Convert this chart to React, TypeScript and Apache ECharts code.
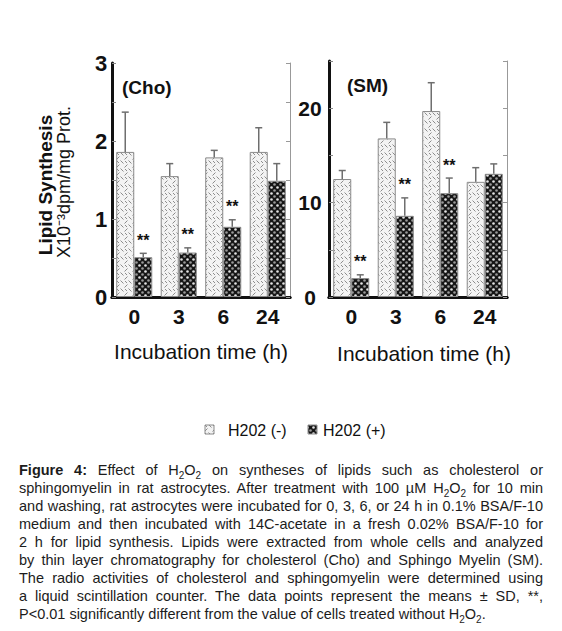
import React, { useEffect, useLayoutEffect, useRef } from 'react';
import * as echarts from 'echarts';

// ---------- data ----------
const categories = ['0', '3', '6', '24'];

const choMinus = [1.86, 1.55, 1.79, 1.86];
const choMinusSD = [0.51, 0.16, 0.09, 0.31];
const choPlus = [0.51, 0.57, 0.9, 1.49];
const choPlusSD = [0.05, 0.06, 0.09, 0.22];
const choSignificant = [true, true, true, false];
const choTickLabels = ['0', '1', '2', '3'];

const smMinus = [12.5, 16.8, 19.7, 12.2];
const smMinusSD = [0.9, 1.7, 3.0, 1.5];
const smPlus = [2.0, 8.6, 11.0, 13.05];
const smPlusSD = [0.35, 1.9, 1.6, 1.05];
const smSignificant = [true, true, true, false];
const smTickLabels = ['0', '10', '20'];

const legendNames = ['H202 (-)', 'H202 (+)'];

// ---------- styling ----------
const SANS = "'Liberation Sans', Arial, sans-serif";
const NARROW = "'Liberation Sans Narrow', 'Liberation Sans', Arial, sans-serif";
const INK = '#111';

function makeLight(): HTMLCanvasElement {
  const c = document.createElement('canvas');
  c.width = 8;
  c.height = 8;
  const g = c.getContext('2d')!;
  g.fillStyle = '#f3f3f3';
  g.fillRect(0, 0, 8, 8);
  g.strokeStyle = '#8c8c8c';
  g.lineWidth = 1;
  g.beginPath();
  g.moveTo(0.5, 0.5);
  g.lineTo(3.5, 3.5);
  g.moveTo(4.5, 7.5);
  g.lineTo(7.5, 4.5);
  g.moveTo(5, 1);
  g.lineTo(7, 3);
  g.stroke();
  return c;
}

function makeDark(): HTMLCanvasElement {
  const c = document.createElement('canvas');
  c.width = 6;
  c.height = 6;
  const g = c.getContext('2d')!;
  g.fillStyle = '#161616';
  g.fillRect(0, 0, 6, 6);
  g.fillStyle = '#e4e4e4';
  g.beginPath();
  g.arc(1.5, 1.5, 1.3, 0, Math.PI * 2);
  g.fill();
  g.fillStyle = '#9a9a9a';
  g.beginPath();
  g.arc(4.5, 4.5, 1.3, 0, Math.PI * 2);
  g.fill();
  return c;
}

function buildErrData(minus: number[], minusSD: number[], plus: number[], plusSD: number[], sig: boolean[]) {
  const out: any[] = [];
  categories.forEach((_, i) => {
    out.push([i, minus[i], minus[i] + minusSD[i], -1, 0]);
    out.push([i, plus[i], plus[i] + plusSD[i], 1, sig[i] ? 1 : 0]);
  });
  return out;
}

function errRender(params: any, api: any) {
  const cat = api.value(0);
  const mean = api.value(1);
  const top = api.value(2);
  const side = api.value(3);
  const sig = api.value(4);
  const band = api.size([1, 0])[0];
  const off = side * band * 0.2025;
  const p0 = api.coord([cat, mean]);
  const p1 = api.coord([cat, top]);
  const x = p0[0] + off;
  const lineStyle = { stroke: '#6e6e6e', lineWidth: 1.5 };
  const children: any[] = [
    { type: 'line', shape: { x1: x, y1: p0[1], x2: x, y2: p1[1] }, style: lineStyle },
    { type: 'line', shape: { x1: x - 3.5, y1: p1[1], x2: x + 3.5, y2: p1[1] }, style: lineStyle },
  ];
  if (sig) {
    children.push({
      type: 'text',
      style: {
        text: '**',
        x,
        y: p1[1] - 13,
        align: 'center',
        verticalAlign: 'middle',
        fontSize: 16,
        fontWeight: 'bold',
        fontFamily: SANS,
        fill: INK,
      },
    });
  }
  return { type: 'group', children };
}

function Caption() {
  const refs = useRef<(HTMLSpanElement | null)[]>([]);
  const W = 524;
  useLayoutEffect(() => {
    refs.current.forEach((el, idx) => {
      if (!el) return;
      el.style.wordSpacing = '0px';
      el.style.transform = 'none';
      const w = el.getBoundingClientRect().width;
      const isLast = idx === refs.current.length - 1;
      if (w > W) {
        el.style.transform = `scaleX(${W / w})`;
      } else if (!isLast) {
        const spaces = (el.textContent || '').split(' ').length - 1;
        if (spaces > 0) el.style.wordSpacing = `${(W - w) / spaces}px`;
      }
    });
  }, []);
  const sub = (t: string) => (
    <sub style={{ fontSize: 10, verticalAlign: -4, lineHeight: 0 }}>{t}</sub>
  );
  const h2o2 = (
    <>
      H{sub('2')}O{sub('2')}
    </>
  );
  const lines: React.ReactNode[] = [
    <>
      <b>Figure 4:</b> Effect of {h2o2} on syntheses of lipids such as cholesterol or
    </>,
    <>sphingomyelin in rat astrocytes. After treatment with 100 µM {h2o2} for 10 min</>,
    <>and washing, rat astrocytes were incubated for 0, 3, 6, or 24 h in 0.1% BSA/F-10</>,
    <>medium and then incubated with 14C-acetate in a fresh 0.02% BSA/F-10 for</>,
    <>2 h for lipid synthesis. Lipids were extracted from whole cells and analyzed</>,
    <>by thin layer chromatography for cholesterol (Cho) and Sphingo Myelin (SM).</>,
    <>The radio activities of cholesterol and sphingomyelin were determined using</>,
    <>a liquid scintillation counter. The data points represent the means ± SD, **,</>,
    <>P&lt;0.01 significantly different from the value of cells treated without {h2o2}.</>,
  ];
  return (
    <div
      style={{
        position: 'absolute',
        left: 19,
        top: 461,
        width: W,
        fontFamily: SANS,
        fontSize: 14.5,
        lineHeight: '18px',
        color: '#1c1c1c',
      }}
    >
      {lines.map((l, i) => (
        <div key={i} style={{ height: 18, whiteSpace: 'nowrap' }}>
          <span
            ref={(el) => {
              refs.current[i] = el;
            }}
            style={{ display: 'inline-block', whiteSpace: 'nowrap', transformOrigin: 'left center' }}
          >
            {l}
          </span>
        </div>
      ))}
    </div>
  );
}

export default function App() {
  const ref = useRef<HTMLDivElement>(null);

  useEffect(() => {
    if (!ref.current) return;
    const chart = echarts.init(ref.current, undefined, { renderer: 'svg' });
    const light = { image: makeLight(), repeat: 'repeat', imageWidth: 8, imageHeight: 8 } as any;
    const dark = { image: makeDark(), repeat: 'repeat', imageWidth: 6, imageHeight: 6 } as any;

    const barStyle = (fill: any) => ({ color: fill, borderColor: '#8a8a8a', borderWidth: 1 });

    const yLeft = (grid: number, max: number, interval: number, labels: string[], margin: number, fs: number) => ({
      type: 'value',
      gridIndex: grid,
      position: 'left',
      min: 0,
      max,
      interval,
      axisLine: { show: true, lineStyle: { color: INK, width: 3 } },
      axisTick: { show: true, inside: true, length: 4, lineStyle: { color: '#888', width: 1 } },
      splitLine: { show: false },
      axisLabel: {
        margin,
        align: 'center',
        fontSize: fs,
        fontWeight: 'bold',
        fontFamily: SANS,
        color: INK,
        formatter: (v: number) => (labels.includes(String(v)) ? String(v) : ''),
      },
    });
    const yRight = (grid: number, max: number, interval: number) => ({
      type: 'value',
      gridIndex: grid,
      position: 'right',
      min: 0,
      max,
      interval,
      axisLine: { show: true, lineStyle: { color: '#999', width: 1 } },
      axisTick: { show: true, inside: true, length: 4, lineStyle: { color: '#999', width: 1 } },
      splitLine: { show: false },
      axisLabel: { show: false },
    });
    const xBottom = (grid: number, shift: number, gap: number) => ({
      type: 'category',
      gridIndex: grid,
      position: 'bottom',
      data: categories,
      axisLine: { show: true, lineStyle: { color: INK, width: 3 } },
      axisTick: { show: false },
      axisLabel: { margin: 9, fontSize: 21, fontWeight: 'bold', fontFamily: NARROW, color: INK },
      name: 'Incubation time (h)',
      nameLocation: 'middle',
      nameGap: gap,
      nameTextStyle: { fontSize: 21, fontFamily: NARROW, color: INK, padding: [0, 0, 0, shift] },
    });
    const xTop = (grid: number) => ({
      type: 'category',
      gridIndex: grid,
      position: 'top',
      data: categories,
      axisLine: { show: true, lineStyle: { color: INK, width: 3 } },
      axisTick: { show: false },
      axisLabel: { show: false },
    });

    const option: any = {
      animation: false,
      backgroundColor: '#fff',
      grid: [
        { left: 112, top: 63, width: 178, height: 234 },
        { left: 329, top: 61, width: 178, height: 236 },
      ],
      xAxis: [xBottom(0, 0, 44), xTop(0), xBottom(1, 12, 46), xTop(1)],
      yAxis: [
        yLeft(0, 3, 0.5, choTickLabels, 11, 22),
        yRight(0, 3, 0.5),
        yLeft(1, 25, 5, smTickLabels, 19, 21),
        yRight(1, 25, 5),
      ],
      series: [
        {
          type: 'bar',
          name: legendNames[0],
          xAxisIndex: 0,
          yAxisIndex: 0,
          data: choMinus,
          barGap: '0%',
          barCategoryGap: '19%',
          itemStyle: barStyle(light),
        },
        {
          type: 'bar',
          name: legendNames[1],
          xAxisIndex: 0,
          yAxisIndex: 0,
          data: choPlus,
          barGap: '0%',
          barCategoryGap: '19%',
          itemStyle: barStyle(dark),
        },
        {
          type: 'custom',
          xAxisIndex: 0,
          yAxisIndex: 0,
          renderItem: errRender,
          encode: { x: 0, y: [1, 2] },
          data: buildErrData(choMinus, choMinusSD, choPlus, choPlusSD, choSignificant),
          z: 5,
        },
        {
          type: 'bar',
          name: legendNames[0],
          xAxisIndex: 2,
          yAxisIndex: 2,
          data: smMinus,
          barGap: '0%',
          barCategoryGap: '19%',
          itemStyle: barStyle(light),
        },
        {
          type: 'bar',
          name: legendNames[1],
          xAxisIndex: 2,
          yAxisIndex: 2,
          data: smPlus,
          barGap: '0%',
          barCategoryGap: '19%',
          itemStyle: barStyle(dark),
        },
        {
          type: 'custom',
          xAxisIndex: 2,
          yAxisIndex: 2,
          renderItem: errRender,
          encode: { x: 0, y: [1, 2] },
          data: buildErrData(smMinus, smMinusSD, smPlus, smPlusSD, smSignificant),
          z: 5,
        },
      ],
      graphic: [
        {
          type: 'text',
          x: 45,
          y: 185,
          rotation: Math.PI / 2,
          style: {
            text: 'Lipid Synthesis',
            align: 'center',
            verticalAlign: 'middle',
            fontSize: 19,
            fontWeight: 'bold',
            fontFamily: SANS,
            fill: INK,
          },
        },
        {
          type: 'text',
          x: 64,
          y: 182,
          rotation: Math.PI / 2,
          style: {
            text: 'X10⁻³dpm/mg Prot.',
            align: 'center',
            verticalAlign: 'middle',
            fontSize: 18,
            fontFamily: SANS,
            fill: INK,
          },
        },
        {
          type: 'text',
          x: 122,
          y: 87,
          style: {
            text: '(Cho)',
            align: 'left',
            verticalAlign: 'middle',
            fontSize: 19,
            fontWeight: 'bold',
            fontFamily: SANS,
            fill: INK,
          },
        },
        {
          type: 'text',
          x: 347,
          y: 85,
          style: {
            text: '(SM)',
            align: 'left',
            verticalAlign: 'middle',
            fontSize: 19,
            fontWeight: 'bold',
            fontFamily: SANS,
            fill: INK,
          },
        },
        // legend
        {
          type: 'rect',
          shape: { x: 205, y: 425, width: 9, height: 9 },
          style: { fill: light, stroke: '#8a8a8a', lineWidth: 1 },
        },
        {
          type: 'text',
          x: 228,
          y: 430,
          style: {
            text: legendNames[0],
            align: 'left',
            verticalAlign: 'middle',
            fontSize: 16,
            fontFamily: NARROW,
            fill: INK,
          },
        },
        {
          type: 'rect',
          shape: { x: 308, y: 425, width: 9, height: 9 },
          style: { fill: dark, stroke: '#8a8a8a', lineWidth: 1 },
        },
        {
          type: 'text',
          x: 323,
          y: 430,
          style: {
            text: legendNames[1],
            align: 'left',
            verticalAlign: 'middle',
            fontSize: 16,
            fontFamily: NARROW,
            fill: INK,
          },
        },
      ],
    };
    chart.setOption(option);
    return () => chart.dispose();
  }, []);

  return (
    <div style={{ position: 'fixed', left: 0, top: 0, width: 562, height: 631, background: '#fff' }}>
      <div
        style={{
          position: 'absolute',
          left: 4,
          top: 4,
          width: 550,
          height: 621,
          border: '1.5px solid #333',
          borderTopColor: '#aaa',
          borderRadius: 9,
          boxSizing: 'border-box',
        }}
      />
      <div ref={ref} style={{ position: 'absolute', left: 0, top: 0, width: 562, height: 631 }} />
      <Caption />
    </div>
  );
}
